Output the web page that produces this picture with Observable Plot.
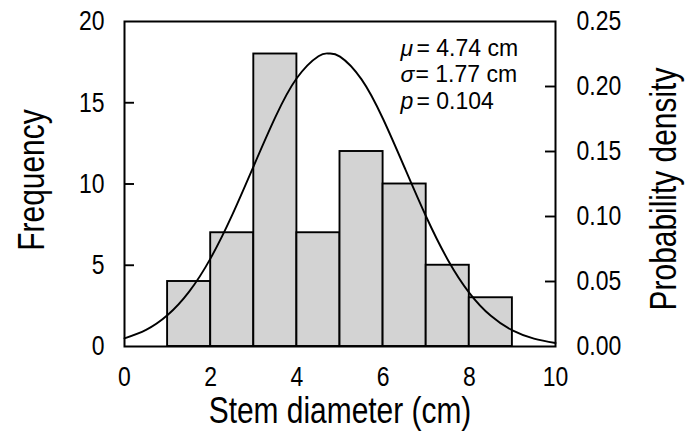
<!DOCTYPE html>
<html><head><meta charset="utf-8">
<script src="https://cdn.jsdelivr.net/npm/d3@7"></script>
<script src="https://cdn.jsdelivr.net/npm/@observablehq/plot@0.6"></script>
<style>body{margin:0;background:#fff}</style>
</head><body><div id="chart"></div>
<script>
const binStart = [1, 2, 3, 4, 5, 6, 7, 8];
const binEnd = [2, 3, 4, 5, 6, 7, 8, 9];
const counts = [4, 7, 18, 7, 12, 10, 5, 3];
const curveX = [0,0.5,1,1.5,2,2.5,3,3.5,4,4.5,4.74,5,5.5,6,6.5,7,7.5,8,8.5,9,9.5,10];
const curveDensity = [0.0063,0.0128,0.0242,0.0422,0.0680,0.1012,0.1390,0.1764,0.2065,0.2233,0.2254,0.2230,0.2055,0.1750,0.1375,0.0998,0.0668,0.0413,0.0236,0.0124,0.0061,0.0027];
const xTicks = [0, 2, 4, 6, 8, 10];
const freqTicks = [0, 5, 10, 15, 20];
const densityTicks = [0, 0.05, 0.10, 0.15, 0.20, 0.25];
const axisTitles = ["Frequency", "Probability density", "Stem diameter (cm)"];
const statSymbols = ["μ", "σ", "p"];
const statTexts = ["= 4.74 cm", "= 1.77 cm", "= 0.104"];
const densToFreq = 20 / 0.25;

const bins = binStart.map((s, i) => ({x1: s, x2: binEnd[i], y: counts[i]}));
const curve = curveX.map((x, i) => ({x, y: curveDensity[i] * densToFreq}));
const font = "'Liberation Sans', Arial, sans-serif";
const W = 688, H = 440, mL = 124, mR = 133, mT = 21, mB = 94;
const innerW = W - mL - mR;
const tickFont = 28;
const titleFont = 36.5;
const condense = 0.82;

const marks = [
  Plot.rectY(bins, {x1: "x1", x2: "x2", y: "y", fill: "#d3d3d3", stroke: "#000", strokeWidth: 1.9}),
  Plot.line(curve, {x: "x", y: "y", curve: "natural", stroke: "#000", strokeWidth: 1.9}),
  Plot.frame({stroke: "#000", strokeWidth: 2}),
  Plot.axisX(xTicks, {tickSize: 0, tickPadding: 20, fontSize: tickFont, label: null}),
  Plot.axisY(freqTicks, {anchor: "left", tickSize: 0, tickPadding: 20, fontSize: tickFont, label: null}),
  Plot.axisY(densityTicks.map(d => d * densToFreq), {anchor: "right", tickSize: 0, tickPadding: 21, fontSize: tickFont, label: null, tickFormat: d => (d / densToFreq).toFixed(2)}),
  Plot.tickY(freqTicks.slice(1, -1), {y: d => d, insetRight: innerW - 10, stroke: "#000", strokeWidth: 1.9}),
  Plot.tickY(densityTicks.slice(1, -1).map(d => d * densToFreq), {y: d => d, insetLeft: innerW - 10, stroke: "#000", strokeWidth: 1.9}),
  Plot.text([axisTitles[0]], {frameAnchor: "left", textAnchor: "middle", rotate: -90, dx: -92, dy: -4, fontSize: titleFont}),
  Plot.text([axisTitles[1]], {frameAnchor: "right", textAnchor: "middle", rotate: -90, dx: 109, dy: 5, fontSize: titleFont}),
  Plot.text([axisTitles[2]], {frameAnchor: "bottom", dy: 76, fontSize: titleFont}),
  ...statSymbols.map((s, i) => Plot.text([s], {frameAnchor: "top-left", textAnchor: "start", dx: 276, dy: 18 + i * 26.5, fontSize: 23, fontStyle: "italic"})),
  ...statTexts.map((s, i) => Plot.text([s], {frameAnchor: "top-left", textAnchor: "start", dx: i === 1 ? 291 : 292, dy: 18 + i * 26.5, fontSize: 23}))
];

const chart = Plot.plot({
  width: W, height: H,
  marginLeft: mL, marginRight: mR, marginTop: mT, marginBottom: mB,
  style: {fontFamily: font, background: "#fff", color: "#000"},
  x: {domain: [0, 10]},
  y: {domain: [0, 20]},
  marks
});

// condensed lettering for tick labels and axis titles (as in the original figure)
d3.select(chart).selectAll("text").each(function () {
  const g = this.parentNode;
  const aria = (g && g.getAttribute("aria-label")) || "";
  const isTick = aria.endsWith("tick label");
  const isTitle = axisTitles.includes(this.textContent);
  if (!isTick && !isTitle) return;
  const tr = this.getAttribute("transform") || "";
  this.setAttribute("transform", `${tr} scale(${condense},1)`);
});

document.getElementById("chart").appendChild(chart);
</script></body></html>
